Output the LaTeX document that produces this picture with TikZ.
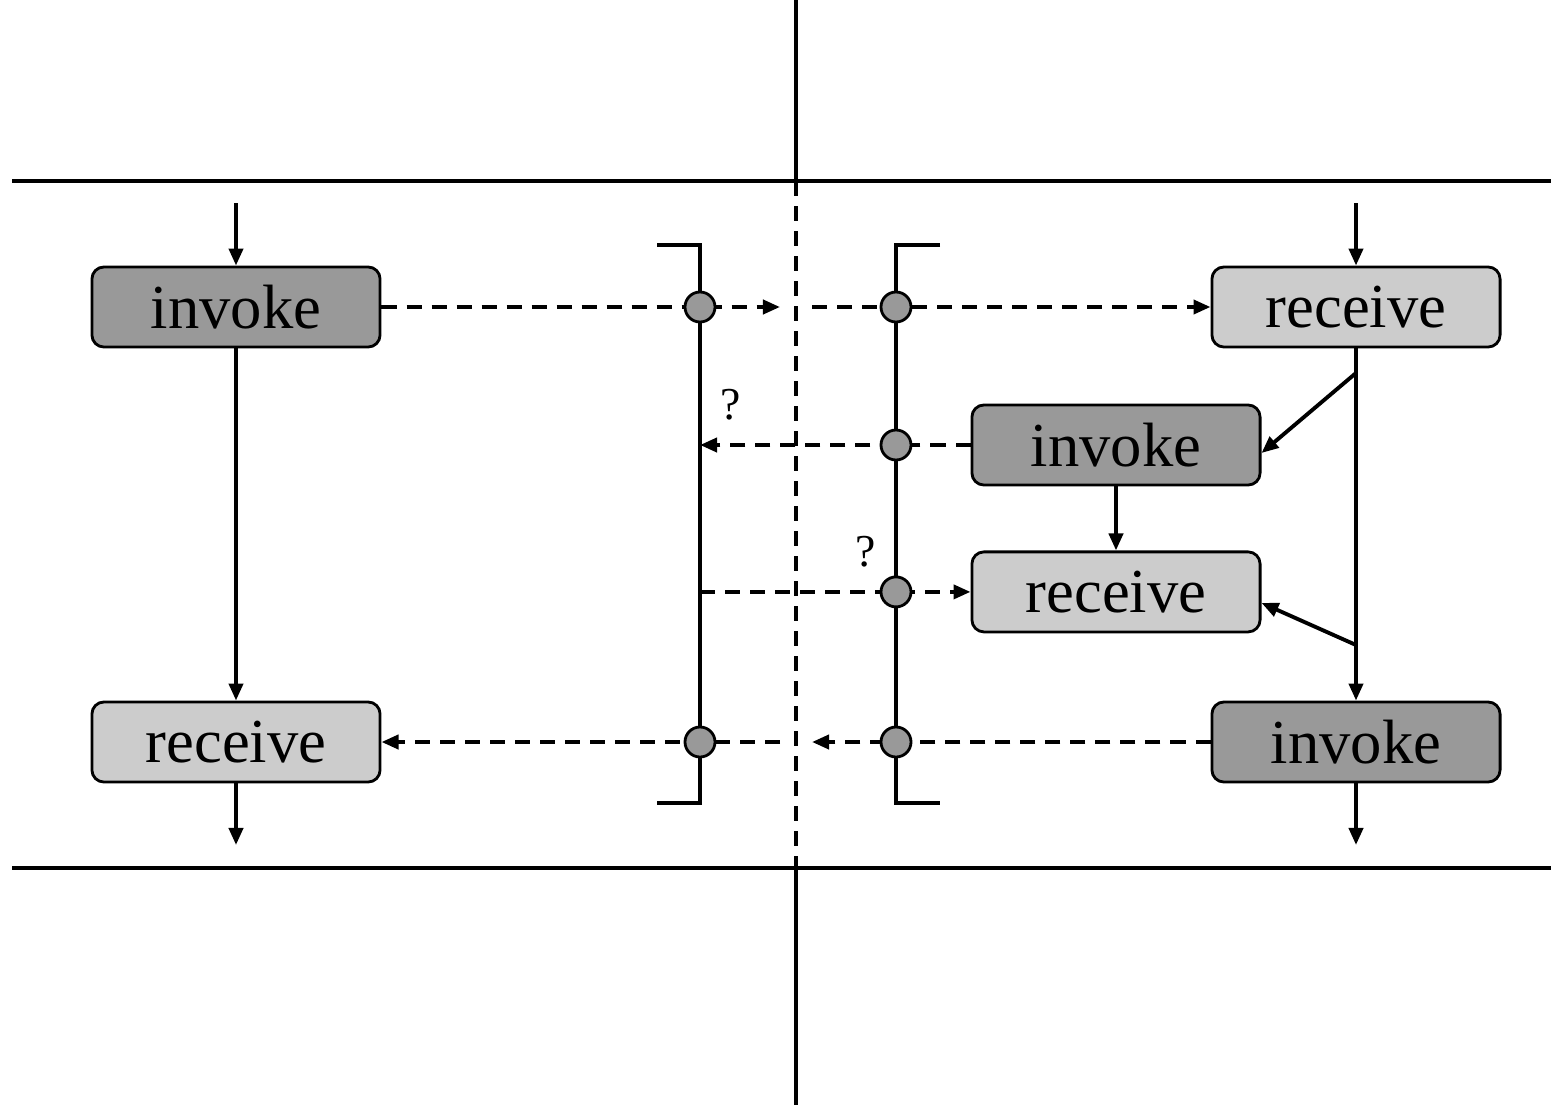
\documentclass[tikz,border=0pt]{standalone}
\usepackage{fontspec}
\setmainfont{Liberation Serif}
\usetikzlibrary{arrows.meta, positioning}

\begin{document}
\begin{tikzpicture}[
    x=0.01cm, y=-0.01cm,
    line width=1.1pt,
    task/.style={draw, line width=0.8pt, rounded corners=0.12cm, minimum width=2.88cm, minimum height=0.8cm, inner sep=0pt, font=\fontsize{17.8}{20}\selectfont},
    invokebox/.style={task, fill=gray!80},
    receivebox/.style={task, fill=gray!40},
    port/.style={circle, draw, line width=0.8pt, fill=gray!80, minimum size=0.3cm, inner sep=0pt},
    arrow/.style={-{Triangle[length=0.17cm, width=0.14cm]}},
    msg/.style={arrow, dash pattern=on 0.15cm off 0.1cm},
    query/.style={font=\fontsize{13}{15}\selectfont}
]
\useasboundingbox (0,0) rectangle (1551,1109);

% Trennlinien
\draw (12,181) -- (1551,181);
\draw (12,868) -- (1551,868);
\draw (796,0) -- (796,181);
\draw[dash pattern=on 0.15cm off 0.1cm] (796,181) -- (796,868);
\draw (796,868) -- (796,1105);

% linke Seite
\node[invokebox] (inv1) at (236,307) {invoke};
\node[receivebox] (rec1) at (236,742) {receive};

% rechte Seite
\node[receivebox] (rec3) at (1356,307) {receive};
\node[invokebox] (inv2) at (1116,445) {invoke};
\node[receivebox, below=0.64cm of inv2] (rec2) {receive};
\node[invokebox] (inv3) at (1356,742) {invoke};

% Klammern
\draw (657,245) -- (700,245) -- (700,803) -- (657,803);
\draw (940,245) -- (896,245) -- (896,803) -- (940,803);

\coordinate (in1) at (236,203);
\coordinate (out1) at (236,845);
\coordinate (in3) at (1356,203);
\coordinate (out3) at (1356,845);
\coordinate (br1) at (1356,373);
\coordinate (br2) at (1356,645);
\coordinate (gapL1) at (780,307);
\coordinate (gapR1) at (812,307);
\coordinate (gapL2) at (780,742);
\coordinate (gapR2) at (812,742);

% Ports
\coordinate (pL1) at (700,307);
\coordinate (pR1) at (896,307);
\coordinate (pR2) at (inv2.west -| pR1);
\coordinate (pR3) at (rec2.west -| pR1);
\coordinate (pL4) at (700,742);
\coordinate (pR4) at (896,742);

% Kontrollfluss
\draw[arrow] (in1) -- (inv1.north);
\draw[arrow] (inv1.south) -- (rec1.north);
\draw[arrow] (rec1.south) -- (out1);
\draw[arrow] (in3) -- (rec3.north);
\draw[arrow] (rec3.south) -- (inv3.north);
\draw[arrow] (inv3.south) -- (out3);
\draw[arrow] (br1) -- ([yshift=-0.08cm]inv2.east);
\draw[arrow] (br2) -- ([yshift=-0.11cm]rec2.east);
\draw[arrow] (inv2.south) -- (rec2.north);

% Nachrichten
\draw[msg] (inv1.east) -- (gapL1);
\draw[msg] (gapR1) -- (rec3.west);
\draw[msg] (inv2.west) -- (inv2.west -| pL1);
\draw[msg] (rec2.west -| pL1) -- (rec2.west);
\draw[msg] (inv3.west) -- (gapR2);
\draw[msg] (gapL2) -- (rec1.east);

\foreach \p in {pL1, pR1, pR2, pR3, pL4, pR4}
    \node[port] at (\p) {};

\node[query] (q1) at (731,405) {?};
\node[query] (q2) at (866,552) {?};

\end{tikzpicture}
\end{document}
